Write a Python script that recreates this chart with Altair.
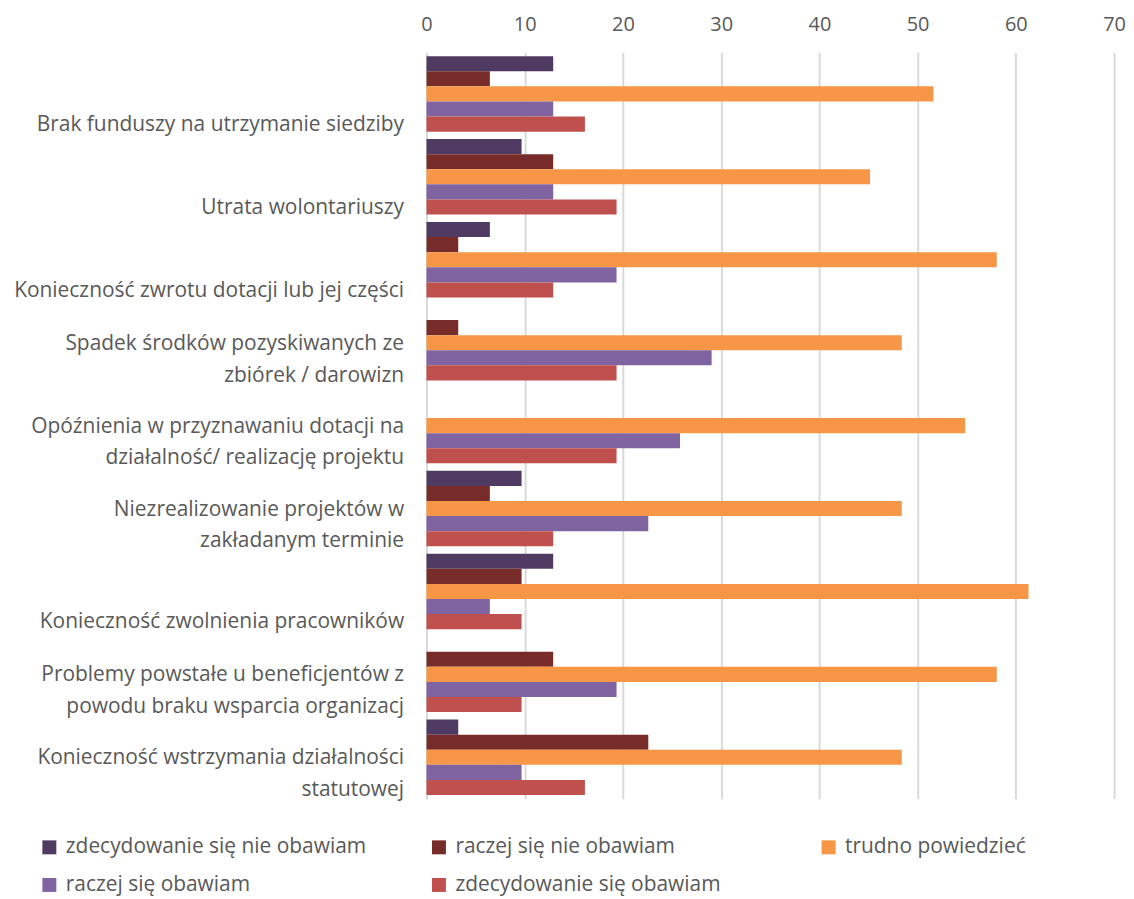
import altair as alt
import pandas as pd

categories = [
    "Brak funduszy na utrzymanie siedziby",
    "Utrata wolontariuszy",
    "Konieczność zwrotu dotacji lub jej części",
    "Spadek środków pozyskiwanych ze\nzbiórek / darowizn",
    "Opóźnienia w przyznawaniu dotacji na\ndziałalność/ realizację projektu",
    "Niezrealizowanie projektów w\nzakładanym terminie",
    "Konieczność zwolnienia pracowników",
    "Problemy powstałe u beneficjentów z\npowodu braku wsparcia organizacj",
    "Konieczność wstrzymania działalności\nstatutowej",
]

series = [
    "zdecydowanie się nie obawiam",
    "raczej się nie obawiam",
    "trudno powiedzieć",
    "raczej się obawiam",
    "zdecydowanie się obawiam",
]

colors = ["#4F3B62", "#772C2A", "#F79646", "#8064A2", "#C0504D"]

v_zdec_nie = [12.90, 9.68, 6.45, 0.00, 0.00, 9.68, 12.90, 0.00, 3.23]
v_raczej_nie = [6.45, 12.90, 3.23, 3.23, 0.00, 6.45, 9.68, 12.90, 22.58]
v_trudno = [51.61, 45.16, 58.06, 48.39, 54.84, 48.39, 61.29, 58.06, 48.39]
v_raczej = [12.90, 12.90, 19.35, 29.03, 25.81, 22.58, 6.45, 19.35, 9.68]
v_zdec = [16.13, 19.35, 12.90, 19.35, 19.35, 12.90, 9.68, 9.68, 16.13]

tick_values = [0, 10, 20, 30, 40, 50, 60, 70]

all_values = [v_zdec_nie, v_raczej_nie, v_trudno, v_raczej, v_zdec]

rows = []
for s, vals in zip(series, all_values):
    for c, v in zip(categories, vals):
        rows.append({"kategoria": c, "seria": s, "wartosc": v})
df = pd.DataFrame(rows)

FONT = "Open Sans"
TXT = "#595959"

chart = (
    alt.Chart(df)
    .mark_bar()
    .encode(
        x=alt.X(
            "wartosc:Q",
            scale=alt.Scale(domain=[0, 70], nice=False),
            axis=alt.Axis(
                orient="top",
                values=tick_values,
                title=None,
                domain=False,
                ticks=False,
                labelFlush=False,
                gridColor="#D9D9D9",
                gridWidth=2,
                labelFontSize=20,
                labelColor=TXT,
                labelFont=FONT,
                labelPadding=18,
            ),
        ),
        y=alt.Y(
            "kategoria:N",
            sort=categories,
            scale=alt.Scale(paddingInner=0.09, paddingOuter=0.045),
            axis=alt.Axis(
                title=None,
                domain=False,
                ticks=False,
                labelFontSize=21,
                labelColor=TXT,
                labelFont=FONT,
                labelPadding=23,
                labelLimit=500,
                labelExpr="split(datum.label, '\\n')",
                labelLineHeight=32,
                labelBaseline="bottom",
                labelOffset={
                    "condition": {
                        "test": "indexof(datum.value, '\\n') >= 0",
                        "value": 11,
                    },
                    "value": 41,
                },
            ),
        ),
        yOffset=alt.YOffset("seria:N", sort=series),
        color=alt.Color(
            "seria:N",
            sort=series,
            scale=alt.Scale(domain=series, range=colors),
            legend=alt.Legend(
                title=None,
                orient="none",
                legendX=-389,
                legendY=787,
                direction="horizontal",
                columns=3,
                gridAlign="all",
                columnPadding=62,
                rowPadding=16,
                symbolType="square",
                symbolSize=196,
                symbolStrokeWidth=0,
                labelOffset=6,
                labelFontSize=21,
                labelColor=TXT,
                labelFont=FONT,
                labelLimit=400,
            ),
        ),
    )
    .properties(
        width=690,
        height=749,
        padding={"left": 5, "top": 5, "right": 0, "bottom": 4},
    )
    .configure_view(stroke=None)
)

chart.save("out.html", embed_options={"renderer": "svg", "actions": False})
